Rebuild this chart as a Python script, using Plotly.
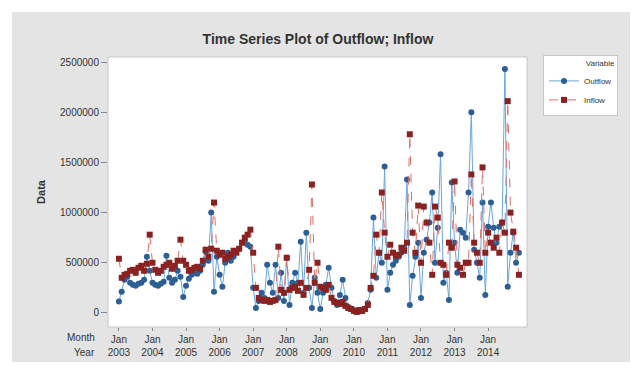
import plotly.graph_objects as go

years = list(range(2003, 2015))

outflow = [
    113, 210, 330, 360, 300, 280, 270, 290, 300, 330, 560, 420,
    300, 280, 270, 290, 310, 570, 350, 300, 330, 420, 360, 160,
    270, 340, 380, 400, 390, 420, 480, 610, 520, 1000, 210, 560,
    380, 260, 500, 600, 520, 560, 620, 640, 700, 720, 680, 660,
    250, 50, 120, 200, 150, 480, 300, 200, 480, 150, 400, 120,
    550, 80, 300, 400, 300, 710, 200, 800, 250, 50, 350, 200,
    40, 200, 280, 450, 250, 120, 80, 180, 330, 150, 60, 40,
    30, 20, 15, 25, 40, 100, 230, 950, 350, 600, 500, 1460,
    230, 400, 480, 520, 560, 600, 650, 1330, 80, 370, 560, 700,
    150, 600, 730, 900, 1200, 500, 850, 1580, 300, 400, 130, 1300,
    700, 400, 830, 800, 750, 1200, 2000, 630, 500, 350, 1100, 180,
    860, 1100, 850, 700, 860, 900, 2430, 260, 600, 800, 500, 600,
]
inflow = [
    540, 350, 380, 390, 420, 430, 400, 450, 470, 420, 490, 780,
    500, 430, 400, 420, 460, 480, 500, 440, 470, 520, 730, 520,
    480, 420, 430, 450, 460, 440, 520, 630, 560, 640, 1100, 620,
    580, 600, 540, 560, 580, 620, 600, 640, 700, 750, 780, 830,
    600, 250, 150, 130, 120, 130, 110, 120, 130, 660, 230, 200,
    550, 230, 250, 260, 220, 300, 180, 250, 430, 1280, 300, 500,
    260, 250, 230, 280, 150, 110, 100, 90, 110, 70, 50, 40,
    20, 10, 30, 20, 40, 80, 250, 370, 780, 600, 1200, 800,
    560, 680, 600, 570, 580, 650, 620, 700, 1780, 800, 600, 1070,
    500, 1060, 900, 700, 380, 1060, 950, 500, 480, 380, 700, 650,
    1310, 480, 450, 380, 500, 500, 1380, 700, 600, 500, 1450, 600,
    800, 700, 650, 750, 600, 900, 800, 2110, 1000, 810, 650, 380,
]
outflow = [v * 1000 for v in outflow]
inflow = [v * 1000 for v in inflow]
idx = list(range(1, len(outflow) + 1))

y_ticks = [0, 500000, 1000000, 1500000, 2000000, 2500000]
tick_idx = [1 + 12 * k for k in range(len(years))]
tick_text = [f"Jan<br>{y}" for y in years]

fig = go.Figure()
fig.add_trace(go.Scatter(
    x=idx, y=outflow, name="Outflow", mode="lines+markers",
    line=dict(color="#6aa6dc", width=1),
    marker=dict(color="#2c5f95", size=6, symbol="circle"),
))
fig.add_trace(go.Scatter(
    x=idx, y=inflow, name="Inflow", mode="lines+markers",
    line=dict(color="#d9706a", width=1, dash="dash"),
    marker=dict(color="#8a2222", size=6, symbol="square"),
))

# page offset of the figure inside the browser page (default body margin)
OFF = 8
W, H = 630, 363
L, T = 100, 49
R = W - (527 - OFF)
B = H - (327 - OFF)
pw, ph = W - L - R, H - T - B


def px(xp):
    """page x pixel -> paper x"""
    return (xp - OFF - L) / pw


def py(yp):
    """page y pixel -> paper y"""
    return (H - B - (yp - OFF)) / ph


shapes = [
    dict(type="rect", xref="paper", yref="paper", x0=px(12), x1=px(650),
         y0=py(362), y1=py(12), fillcolor="#e4e4e4", line=dict(width=0), layer="below"),
    dict(type="rect", xref="paper", yref="paper", x0=0, x1=1, y0=0, y1=1,
         fillcolor="white", line=dict(color="#c8c8c8", width=1), layer="below"),
]

annotations = [
    dict(text="Month", xref="paper", yref="paper", x=px(97), y=py(337),
         xanchor="right", yanchor="middle", showarrow=False,
         font=dict(size=10, color="#333333")),
    dict(text="Year", xref="paper", yref="paper", x=px(97), y=py(352),
         xanchor="right", yanchor="middle", showarrow=False,
         font=dict(size=10, color="#333333")),
]

fig.update_layout(
    width=W, height=H,
    margin=dict(l=L, r=R, t=T, b=B),
    paper_bgcolor="white", plot_bgcolor="white",
    font=dict(family="Liberation Sans, Arial, sans-serif", color="#333333", size=10),
    title=dict(text="<b>Time Series Plot of Outflow; Inflow</b>",
               x=(318 - OFF) / W, xanchor="center",
               y=1 - (39 - OFF) / H, yanchor="middle",
               font=dict(size=14, color="#333333")),
    shapes=shapes,
    annotations=annotations,
    showlegend=True,
    legend=dict(
        x=px(543), y=py(55), xanchor="left", yanchor="top",
        bgcolor="white", bordercolor="#c8c8c8", borderwidth=1,
        font=dict(size=8, color="#333333"),
        title=dict(text="Variable", side="top right", font=dict(size=8)),
        tracegroupgap=0, itemwidth=30,
    ),
    xaxis=dict(
        range=[-2.9, 146.9], tickmode="array", tickvals=tick_idx, ticktext=tick_text,
        showgrid=False, zeroline=False, ticks="outside", ticklen=3,
        tickcolor="#888888", tickfont=dict(size=10, color="#333333"),
        showline=False,
    ),
    yaxis=dict(
        range=[-140000, 2550000], tickmode="array", tickvals=y_ticks,
        ticktext=[str(v) for v in y_ticks],
        showgrid=False, zeroline=False, ticks="outside", ticklen=6,
        tickcolor="#888888", tickfont=dict(size=10, color="#333333"),
        title=dict(text="<b>Data</b>", font=dict(size=11, color="#333333"), standoff=12),
        showline=False,
    ),
)

fig.write_html("out.html")
